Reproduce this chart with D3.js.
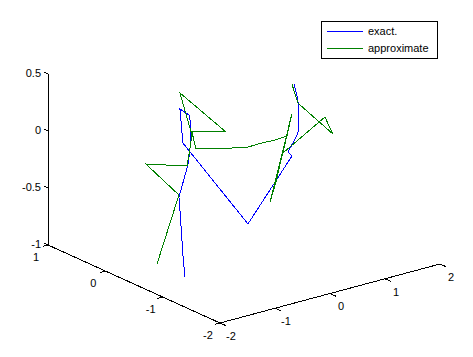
<!DOCTYPE html>
<html>
<head>
<meta charset="utf-8">
<script src="https://cdn.jsdelivr.net/npm/d3@7"></script>
<style>
    body { margin: 0; background: #fff; }
    svg { display: block; font-family: 'Liberation Sans', Arial, sans-serif; }
</style>
</head>
<body>
<div id="chart"></div>
<script>
// 3-D polylines (x, y, z per vertex)
var exactX = [-1.386, -1.423, -1.269, -1.287, -0.915, -0.879, -0.652, -0.688, -0.798, -0.852,
    -1.024, -1.006, -0.032, 0.976, 0.903, 0.994, 1.085, 1.312, 1.293, 1.221];
var exactY = [-0.8, -0.8, -0.6, -0.6, -0.4, -0.4, -0.2, -0.2, -0.2, -0.2,
    -0.4, -0.4, -0.6, -0.4, -0.4, -0.4, -0.4, -0.2, -0.2, -0.2];
var exactZ = [-0.950, -0.752, -0.423, -0.306, -0.119, 0.008, 0.152, 0.244, 0.294, 0.318,
    0.184, 0.085, -0.705, -0.285, -0.241, -0.173, -0.097, -0.058, 0.120, 0.269];

var approxX = [-1.895, -1.287, -1.679, -0.933, -0.897, -0.842, -0.852, -0.224, -0.842, -0.769,
    -0.097, 0.176, 0.431, 0.667, 0.885, 1.184, 0.368, 0.477, 1.166, 0.812, 1.784, 1.721, 1.293, 1.184];
var approxY = [-0.8, -0.6, -0.4, -0.4, -0.4, -0.4, -0.2, -0.4, -0.4, -0.4,
    -0.4, -0.4, -0.4, -0.4, -0.4, -0.2, -0.6, -0.6, -0.2, -0.4, -0.2, -0.4, -0.2, -0.2];
var approxZ = [-0.770, -0.289, -0.012, -0.126, -0.034, 0.134, 0.459, 0.081, 0.161, 0.002,
    -0.076, -0.103, -0.100, -0.105, -0.098, 0.011, -0.564, -0.403, -0.013, -0.238, -0.093, -0.189, 0.093, 0.274];

var xTicks = [-2, -1, 0, 1, 2];
var yTicks = [-2, -1, 0, 1];
var zTicks = [-1, -0.5, 0, 0.5];

var seriesNames = ['exact.', 'approximate'];
var seriesColors = ['#0000ff', '#008000'];

var width = 473, height = 357;

// screen frame of the 3-D box (orthographic view)
var origin = [220, 323];          // (x=-2, y=-2, z=-1)
var xVec = [220, -59];
var yVec = [-172, -78];
var zLen = -171;

var xs = d3.scaleLinear().domain([-2, 2]).range([0, 1]);
var ys = d3.scaleLinear().domain([-2, 1]).range([0, 1]);
var zs = d3.scaleLinear().domain([-1, 0.5]).range([0, 1]);

function project(x, y, z) {
    var a = xs(x), b = ys(y), c = zs(z);
    return [origin[0] + a * xVec[0] + b * yVec[0],
            origin[1] + a * xVec[1] + b * yVec[1] + c * zLen];
}

function zipPoints(X, Y, Z) {
    return X.map(function (v, i) { return project(v, Y[i], Z[i]); });
}

var svg = d3.select('#chart').append('svg')
    .attr('width', width)
    .attr('height', height);

svg.append('rect').attr('width', width).attr('height', height).attr('fill', '#fff');

var line = d3.line();
var axes = svg.append('g')
    .attr('stroke', '#000')
    .attr('stroke-width', 1)
    .attr('fill', 'none')
    .attr('shape-rendering', 'crispEdges');

// axis lines
axes.append('path').attr('d', line([project(-2, -2, -1), project(2, -2, -1)]));
axes.append('path').attr('d', line([project(-2, -2, -1), project(-2, 1, -1)]));
axes.append('path').attr('d', line([project(-2, 1, -1), project(-2, 1, 0.5)]));

// ticks
xTicks.forEach(function (t) {
    axes.append('path').attr('d', line([project(t, -2, -1), project(t, -2.1, -1)]));
});
yTicks.forEach(function (t) {
    axes.append('path').attr('d', line([project(-2, t, -1), project(-2.1, t, -1)]));
});
zTicks.forEach(function (t) {
    axes.append('path').attr('d', line([project(-2, 1, t), project(-2, 1.07, t)]));
});

var labels = svg.append('g')
    .attr('font-size', 11)
    .attr('fill', '#000');

xTicks.forEach(function (t) {
    var p = project(t, -2, -1);
    labels.append('text')
        .attr('x', p[0] + 11).attr('y', p[1] + 13)
        .attr('dy', '0.35em')
        .attr('text-anchor', 'middle')
        .text(t);
});
yTicks.forEach(function (t) {
    var p = project(-2, t, -1);
    labels.append('text')
        .attr('x', p[0] - 12).attr('y', p[1] + 12)
        .attr('dy', '0.35em')
        .attr('text-anchor', 'middle')
        .text(t);
});
zTicks.forEach(function (t) {
    var p = project(-2, 1, t);
    labels.append('text')
        .attr('x', p[0] - 7).attr('y', p[1] - 1)
        .attr('dy', '0.35em')
        .attr('text-anchor', 'end')
        .text(t);
});

// data lines
var series = [zipPoints(exactX, exactY, exactZ), zipPoints(approxX, approxY, approxZ)];
svg.append('g').selectAll('path').data(series).enter()
    .append('path')
    .attr('d', line)
    .attr('fill', 'none')
    .attr('stroke', function (d, i) { return seriesColors[i]; })
    .attr('stroke-width', 1)
    .attr('shape-rendering', 'crispEdges');

// legend
var legend = svg.append('g').attr('transform', 'translate(321,21)');
legend.append('rect')
    .attr('x', 0.5).attr('y', 0.5)
    .attr('width', 116).attr('height', 37)
    .attr('fill', '#fff')
    .attr('stroke', '#000')
    .attr('shape-rendering', 'crispEdges');
seriesNames.forEach(function (name, i) {
    var y = 10 + i * 17;
    legend.append('line')
        .attr('x1', 6).attr('x2', 42)
        .attr('y1', y).attr('y2', y)
        .attr('stroke', seriesColors[i])
        .attr('shape-rendering', 'crispEdges');
    legend.append('text')
        .attr('x', 47).attr('y', y)
        .attr('dy', '0.35em')
        .attr('font-size', 11)
        .text(name);
});
</script>
</body>
</html>
